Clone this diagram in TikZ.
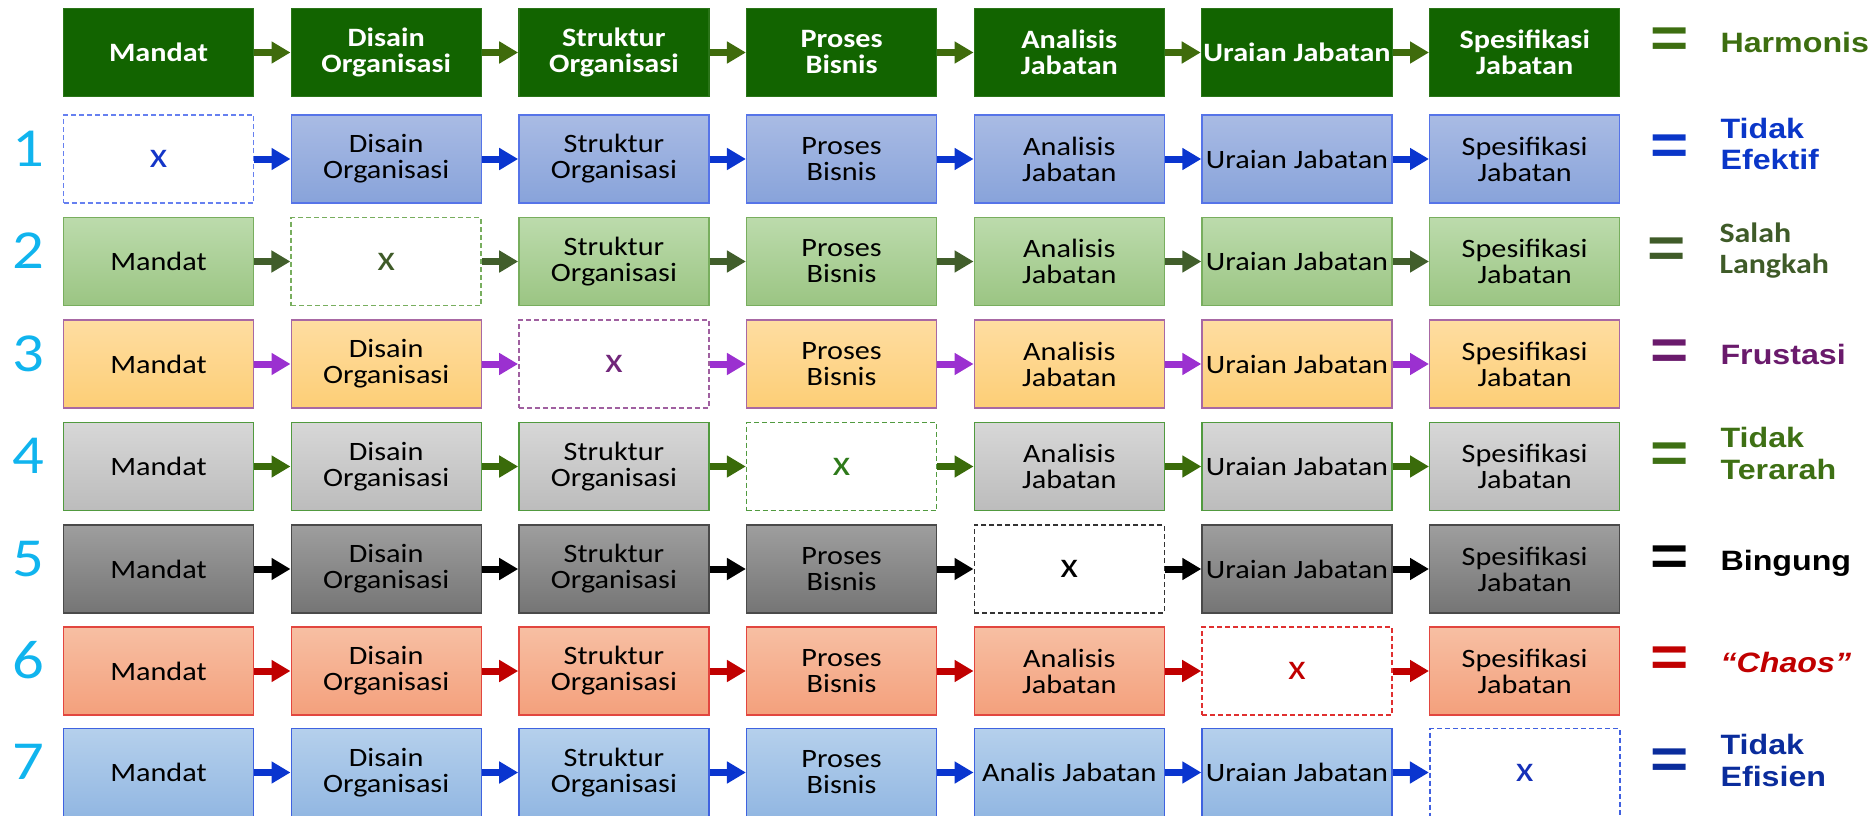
\documentclass[tikz,border=0pt]{standalone}
\usepackage{fontspec}
\setmainfont{Carlito}[FakeStretch=1.14]
\newfontfamily\lblfont{Liberation Sans}[FakeStretch=1.15]
\usetikzlibrary{arrows.meta}

% palette
\definecolor{topFill}{HTML}{126400}
\definecolor{topEdge}{HTML}{2A7418}
\definecolor{topArr}{HTML}{3F6B0C}
\definecolor{topLbl}{HTML}{3D6E10}
\definecolor{numCyan}{HTML}{10B4EE}

\definecolor{aTop}{HTML}{A9BBE4}\definecolor{aBot}{HTML}{88A3DA}\definecolor{aEdge}{HTML}{5674E8}
\definecolor{aDash}{HTML}{6680F0}\definecolor{aArr}{HTML}{0A35CF}\definecolor{aX}{HTML}{1436C8}\definecolor{aLbl}{HTML}{0A36C8}

\definecolor{bTop}{HTML}{BCDBAC}\definecolor{bBot}{HTML}{9BC583}\definecolor{bEdge}{HTML}{78AE5E}
\definecolor{bDash}{HTML}{78AE5E}\definecolor{bArr}{HTML}{415E2B}\definecolor{bX}{HTML}{3F5B28}\definecolor{bLbl}{HTML}{3F5B28}

\definecolor{cTop}{HTML}{FEDDA1}\definecolor{cBot}{HTML}{FDCE76}\definecolor{cEdge}{HTML}{A868A4}
\definecolor{cDash}{HTML}{A060A0}\definecolor{cArr}{HTML}{9B30D0}\definecolor{cX}{HTML}{71267A}\definecolor{cLbl}{HTML}{6A1A6C}

\definecolor{dTop}{HTML}{D7D7D7}\definecolor{dBot}{HTML}{BCBCBC}\definecolor{dEdge}{HTML}{519A3F}
\definecolor{dDash}{HTML}{519A3F}\definecolor{dArr}{HTML}{3A6B0A}\definecolor{dX}{HTML}{2E7A1A}\definecolor{dLbl}{HTML}{3E7014}

\definecolor{eTop}{HTML}{9E9E9E}\definecolor{eBot}{HTML}{757575}\definecolor{eEdge}{HTML}{4A4A4A}
\definecolor{eDash}{HTML}{333333}\definecolor{eArr}{HTML}{000000}\definecolor{eX}{HTML}{000000}\definecolor{eLbl}{HTML}{000000}

\definecolor{fTop}{HTML}{F7BFA3}\definecolor{fBot}{HTML}{F4A07C}\definecolor{fEdge}{HTML}{E2463F}
\definecolor{fDash}{HTML}{E03030}\definecolor{fArr}{HTML}{C00000}\definecolor{fX}{HTML}{C00000}\definecolor{fLbl}{HTML}{C00000}

\definecolor{gTop}{HTML}{B5D0EC}\definecolor{gBot}{HTML}{92B7E2}\definecolor{gEdge}{HTML}{3F62E0}
\definecolor{gDash}{HTML}{4060E0}\definecolor{gArr}{HTML}{0A35CF}\definecolor{gX}{HTML}{1530B8}\definecolor{gLbl}{HTML}{0A2C9C}

\tikzset{
  stepnode/.style={rectangle, minimum width=190pt, minimum height=88pt, inner sep=2pt,
    line width=1.4pt, align=center, text=black, font=\fontsize{26.5}{26}\selectfont},
  missing/.style={stepnode, fill=white, dash pattern=on 5pt off 3pt, line width=1.6pt,
    font=\fontsize{36}{36}\selectfont},
  link/.style={line width=7pt, -{Triangle[length=19pt,width=21pt]}},
  boxT/.style={stepnode, fill=topFill, draw=topEdge, text=white,
    font=\fontsize{26.5}{26}\selectfont\bfseries},
  arrT/.style={link, draw=topArr},
  rowstyle/.style={
    box#1/.style={stepnode, top color=#1Top, bottom color=#1Bot, draw=#1Edge},
    xbox#1/.style={missing, draw=#1Dash, text=#1X},
    arr#1/.style={link, draw=#1Arr}},
  rowstyle/.list={a,b,c,d,e,f,g},
  verdict/.style={anchor=base west, font=\lblfont\bfseries\fontsize{28}{32}\selectfont},
  eqsign/.style={anchor=base, inner sep=0pt, font=\lblfont\bfseries\fontsize{57}{57}\selectfont},
  rownum/.style={anchor=base, inner sep=0pt, text=numCyan, font=\fontsize{55}{55}\selectfont},
}

\newcommand\stdsteps{Mandat, {Disain\\Organisasi}, {Struktur\\Organisasi}, {Proses\\Bisnis},
  {Analisis\\Jabatan}, Uraian Jabatan, {Spesifikasi\\Jabatan}}
\newcommand\laststeps{Mandat, {Disain\\Organisasi}, {Struktur\\Organisasi}, {Proses\\Bisnis},
  Analis Jabatan, Uraian Jabatan, {Spesifikasi\\Jabatan}}

% one chain of seven steps: #1 tag, #2 centre y, #3 skipped column (-1 for none), #4 step list
\newcommand\chain[4]{%
  \foreach \t [count=\i from 0] in #4 {%
    \ifnum\i=#3\relax
      \node[xbox#1] (#1\i) at ({158.5+227.7*\i},#2) {x};
    \else
      \node[box#1] (#1\i) at ({158.5+227.7*\i},#2) {\t};
    \fi
  }%
  \foreach \i in {0,...,5}{%
    \pgfmathtruncatemacro\j{\i+1}%
    \draw[arr#1] (#1\i.east) -- (#1\j.west);
  }%
}

\begin{document}
\begin{tikzpicture}[x=1pt,y=-1pt]
\useasboundingbox (0,0) rectangle (1875,816);

% reference chain
\chain{T}{52.5}{-1}{\stdsteps}
\node[eqsign, text=topLbl] (eqT) at (1669.5,58) {=};
\node[verdict, text=topLbl] (vT) at (1717,53) {Harmonis};

% chains with one missing step
\chain{a}{159}{0}{\stdsteps}
\chain{b}{261.5}{1}{\stdsteps}
\chain{c}{364}{2}{\stdsteps}
\chain{d}{466.5}{3}{\stdsteps}
\chain{e}{569}{4}{\stdsteps}
\chain{f}{671}{5}{\stdsteps}
\chain{g}{772.5}{6}{\laststeps}

% row numbers
\node[rownum] (n1) at (28,166) {1};
\node[rownum] (n2) at (28,268.5) {2};
\node[rownum] (n3) at (28,371) {3};
\node[rownum] (n4) at (28,473.5) {4};
\node[rownum] (n5) at (28,576) {5};
\node[rownum] (n6) at (28,678) {6};
\node[rownum] (n7) at (28,779.5) {7};

% outcomes
\node[eqsign, text=aLbl] (eqa) at (1669.5,164) {=};
\node[verdict, text=aLbl] (va) at (1717,138) {\begin{tabular}[t]{@{}l@{}}Tidak\\Efektif\end{tabular}};
\node[eqsign, text=bLbl] (eqb) at (1667,267) {=};
\node[verdict, text=bLbl, font=\bfseries\fontsize{28}{31}\selectfont] (vb) at (1716,242)
  {\begin{tabular}[t]{@{}l@{}}Salah\\Langkah\end{tabular}};
\node[eqsign, text=cLbl] (eqc) at (1669.5,369) {=};
\node[verdict, text=cLbl] (vc) at (1717,364) {Frustasi};
\node[eqsign, text=dLbl] (eqd) at (1669.5,472) {=};
\node[verdict, text=dLbl] (vd) at (1717,447) {\begin{tabular}[t]{@{}l@{}}Tidak\\Terarah\end{tabular}};
\node[eqsign, text=eLbl] (eqe) at (1669.5,575) {=};
\node[verdict, text=eLbl] (ve) at (1717,570) {Bingung};
\node[eqsign, text=fLbl] (eqf) at (1669.5,676) {=};
\node[verdict, text=fLbl, font=\lblfont\bfseries\itshape\fontsize{28}{32}\selectfont] (vf) at (1717,672) {“Chaos”};
\node[eqsign, text=gLbl] (eqg) at (1669.5,778) {=};
\node[verdict, text=gLbl] (vg) at (1717,754) {\begin{tabular}[t]{@{}l@{}}Tidak\\Efisien\end{tabular}};
\end{tikzpicture}
\end{document}
